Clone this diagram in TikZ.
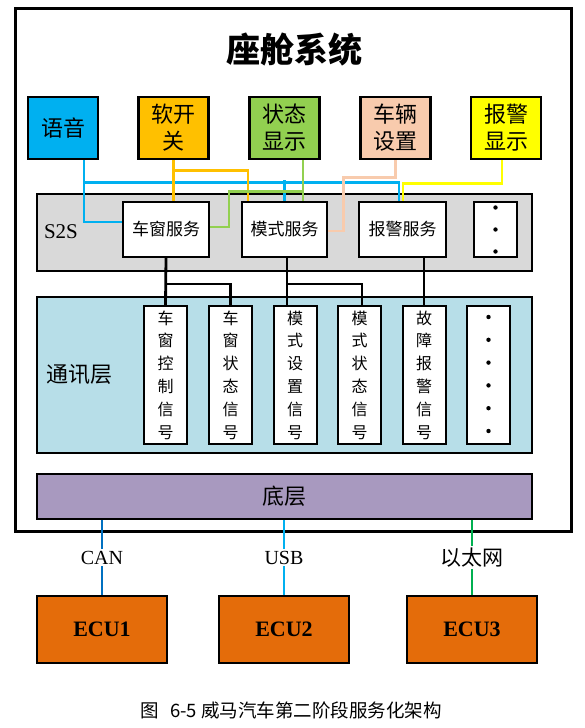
\documentclass[tikz,border=0pt]{standalone}
\usepackage{fontspec}
\setmainfont{Liberation Serif}
\newfontfamily\cjk{Noto Sans CJK SC}
\usetikzlibrary{positioning,calc}

\definecolor{cVoice}{HTML}{00B0F0}
\definecolor{cSwitch}{HTML}{FFC000}
\definecolor{cState}{HTML}{92D050}
\definecolor{cSetup}{HTML}{F8CBAD}
\definecolor{cAlarm}{HTML}{FFFF00}
\definecolor{cGray}{HTML}{D9D9D9}
\definecolor{cComm}{HTML}{B7DEE8}
\definecolor{cBase}{HTML}{A899BF}
\definecolor{cEcu}{HTML}{E46C0A}
\definecolor{cCan}{HTML}{0070C0}
\definecolor{cEth}{HTML}{00B050}

\begin{document}
\begin{tikzpicture}[x=1pt, y=-1pt,
  app/.style={draw, line width=2.2pt, minimum width=70pt, minimum height=62pt, align=center,
    inner sep=0pt, font=\cjk\fontsize{22}{27}\selectfont},
  layerbox/.style={draw, line width=2.2pt, minimum width=495pt, inner sep=0pt},
  service/.style={draw, line width=2pt, fill=white, minimum height=55pt, inner sep=0pt,
    font=\cjk\fontsize{17}{20}\selectfont},
  signal/.style={draw, line width=2pt, fill=white, minimum width=43pt, minimum height=138pt,
    inner sep=0pt, align=center, font=\cjk\fontsize{16}{22.8}\selectfont},
  ecu/.style={draw, line width=2.2pt, fill=cEcu, minimum width=130pt, minimum height=67pt,
    font=\bfseries\fontsize{22}{24}\selectfont},
  wire/.style={line width=2.8pt, draw=#1},
  bus/.style={line width=2.8pt, draw=black},
  lbl/.style={fill=white, inner sep=2pt, font=\fontsize{20}{22}\selectfont}
]
\useasboundingbox (0,0) rectangle (585,728);

% cabin frame
\draw[line width=3pt] (15,8) rectangle (571,531);
\node[font=\cjk\bfseries\fontsize{34}{36}\selectfont] (title) at (294,50) {座舱系统};

% applications
\node[app, fill=cVoice] (yuyin) at (63,128) {语音};
\node[app, fill=cSwitch] (kaiguan) at (173.5,128) {软开\\关};
\node[app, fill=cState] (zhuangtai) at (284.5,128) {状态\\显示};
\node[app, fill=cSetup] (shezhi) at (395.5,128) {车辆\\设置};
\node[app, fill=cAlarm] (baojingxs) at (506,128) {报警\\显示};

% S2S layer
\node[layerbox, fill=cGray, minimum height=77pt] (s2s) at (284.5,232.5) {};
\node[font=\fontsize{21}{23}\selectfont] (s2slbl) at (61,232) {S2S};
\node[service, minimum width=86pt] (chechuang) at (166,229.5) {车窗服务};
\node[service, minimum width=85pt] (moshi) at (284.5,229.5) {模式服务};
\node[service, minimum width=87pt] (baojing) at (402.5,229.5) {报警服务};
\node[service, minimum width=43pt] (more1) at (495.5,229.5) {};
\foreach \k in {-1,0,1}
  \fill ($(more1)+(0,22*\k)$) circle (2.2pt);

% communication layer
\node[layerbox, fill=cComm, minimum height=156pt] (comm) at (284.5,375) {};
\node[font=\cjk\fontsize{22}{24}\selectfont] (commlbl) at (79,375) {通讯层};
\node[signal] (sig1) at (165.5,375) {车\\窗\\控\\制\\信\\号};
\node[signal] (sig2) at (230.5,375) {车\\窗\\状\\态\\信\\号};
\node[signal] (sig3) at (295,375) {模\\式\\设\\置\\信\\号};
\node[signal] (sig4) at (359.5,375) {模\\式\\状\\态\\信\\号};
\node[signal] (sig5) at (424,375) {故\\障\\报\\警\\信\\号};
\node[signal] (more2) at (488.5,375) {};
\foreach \k in {0,...,5}
  \fill ($(more2.north)+(0,12+22.8*\k)$) circle (2.2pt);

% base layer
\node[layerbox, fill=cBase, minimum height=45pt, font=\cjk\fontsize{22}{24}\selectfont] (diceng) at (284.5,496.5) {底层};

% ECUs
\node[ecu] (ecu1) at (102,629.5) {ECU1};
\node[ecu] (ecu2) at (284,629.5) {ECU2};
\node[ecu] (ecu3) at (472,629.5) {ECU3};

% application -> service wiring
\draw[wire=cVoice] ([xshift=21pt]yuyin.south) |- ([yshift=7.5pt]chechuang.west);
\draw[wire=cVoice] ([xshift=21pt,yshift=-22pt]yuyin.south) -| ([xshift=-3.5pt]baojing.north);
\draw[wire=cVoice] (moshi.north) -- ++(0,-21);
\draw[wire=cSwitch] (kaiguan.south) -- (kaiguan.south |- chechuang.north);
\draw[wire=cSwitch] ([yshift=-10pt]kaiguan.south) -| ([xshift=-36.5pt]moshi.north);
\draw[wire=cState] ([xshift=18.5pt]zhuangtai.south) -- ([xshift=18.5pt]moshi.north);
\draw[wire=cState] ([xshift=18.5pt,yshift=-31pt]zhuangtai.south) -- ++(-74,0) |- ([yshift=2.5pt]chechuang.east);
\draw[wire=cSetup] (shezhi.south) -- ++(0,17) -- ++(-52,0) |- ([yshift=-1.5pt]moshi.east);
\draw[wire=cAlarm] ([xshift=-4pt]baojingxs.south) -- ++(0,23) -| ([xshift=0.5pt]baojing.north);

% service -> signal wiring
\draw[bus] (chechuang.south) -- (sig1.north);
\draw[bus] ([yshift=-26pt]chechuang.south) -| (sig2.north);
\draw[bus] ([xshift=2.5pt]moshi.south) -- ([xshift=-8pt]sig3.north);
\draw[bus] ([xshift=2.5pt,yshift=-26pt]moshi.south) -| ([xshift=2.5pt]sig4.north);
\draw[bus] ([xshift=21.5pt]baojing.south) -- (sig5.north);

% base -> ECUs
\draw[wire=cCan] (ecu1.north |- diceng.south) -- node[lbl] {CAN} (ecu1.north);
\draw[wire=cVoice] (ecu2.north |- diceng.south) -- node[lbl] {USB} (ecu2.north);
\draw[wire=cEth] (ecu3.north |- diceng.south) -- node[lbl, font=\cjk\fontsize{21}{23}\selectfont] {以太网} (ecu3.north);

\node[font=\cjk\fontsize{18.5}{20}\selectfont] (caption) at (291,710) {图\hspace{0.6em}6-5 威马汽车第二阶段服务化架构};
\end{tikzpicture}
\end{document}
